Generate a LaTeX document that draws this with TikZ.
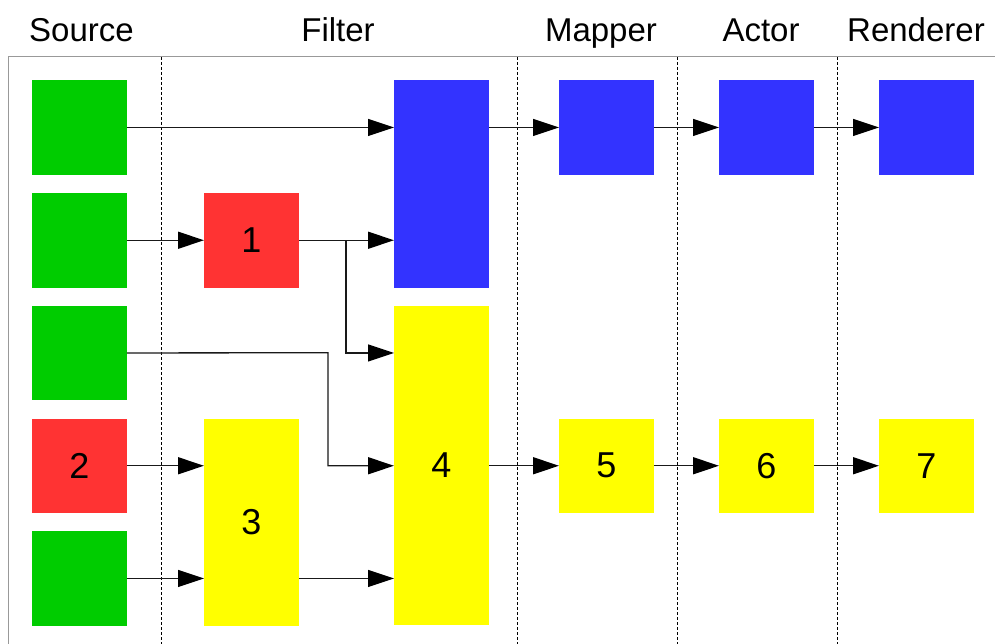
\documentclass[tikz,border=0pt]{standalone}
\usepackage{fontspec}
\setmainfont{Liberation Sans}
\usetikzlibrary{arrows.meta}
\definecolor{cgreen}{HTML}{00CC00}
\definecolor{cred}{HTML}{FF3333}
\definecolor{cblue}{HTML}{3333FF}
\definecolor{cyellow}{HTML}{FFFF00}
\definecolor{cframe}{HTML}{999999}
\begin{document}
\begin{tikzpicture}[x=1pt,y=-1pt,
  box/.style={rectangle,inner sep=0pt,minimum width=94.5pt,anchor=north west,font=\fontsize{36}{40}\selectfont},
  sq/.style={box,minimum height=94.5pt},
  hdr/.style={anchor=base,font=\fontsize{33}{40}\selectfont,inner sep=0pt},
  arr/.style={draw=black!90,line width=1.3pt,-{Triangle[length=26pt,width=17pt,fill=black,color=black]}},
  sepline/.style={draw=black,line width=0.8pt,dash pattern=on 3pt off 2pt},
  framel/.style={draw=cframe,line width=1pt}]
\useasboundingbox (0,0) rectangle (995,644);
% headers
\node[hdr] (hsrc) at (81.5,42) {Source};
\node[hdr] (hflt) at (338,42) {Filter};
\node[hdr] (hmap) at (601,42) {Mapper};
\node[hdr] (hact) at (761,42) {Actor};
\node[hdr] (hren) at (916,42) {Renderer};
% frame
\coordinate (f0) at (8,644);
\coordinate (f1) at (8,56.5);
\coordinate (f2) at (995,56.5);
\draw[framel] (f0) -- (f1) -- (f2);
% separators
\foreach \i/\x in {a/161.5,b/517,c/677,d/837}{
  \coordinate (s\i t) at (\x,57);
  \coordinate (s\i b) at (\x,644);
  \draw[sepline] (s\i t) -- (s\i b);
}
% source
\node[sq,fill=cgreen] (g1) at (32,80) {};
\node[sq,fill=cgreen] (g2) at (32,192.8) {};
\node[sq,fill=cgreen] (g3) at (32,305.5) {};
\node[sq,fill=cred] (r2) at (32,418.3) {2};
\node[sq,fill=cgreen] (g5) at (32,531) {};
% filter
\node[sq,fill=cred] (r1) at (204,192.8) {1};
\node[box,fill=cyellow,minimum height=207pt] (y3) at (204,418.3) {3};
\node[box,fill=cblue,minimum height=207.5pt] (bf) at (394,80) {};
\node[box,fill=cyellow,minimum height=319.5pt] (y4) at (394,305.5) {4};
% mapper, actor, renderer
\node[sq,fill=cblue] (bm) at (559,80) {};
\node[sq,fill=cblue] (ba) at (719,80) {};
\node[sq,fill=cblue] (br) at (879,80) {};
\node[sq,fill=cyellow] (y5) at (559,418.3) {5};
\node[sq,fill=cyellow] (y6) at (719,418.3) {6};
\node[sq,fill=cyellow] (y7) at (879,418.3) {7};
% connectors
\draw[arr] (g1.east) -- (bf.west |- g1.east);
\draw[arr] (g2.east) -- (r1.west);
\coordinate (j1) at (346,240.05);
\draw[arr] (r1.east) -- (bf.west |- r1.east);
\draw[arr] (j1) |- (y4.west |- g3.east);
\coordinate (j2) at (328,352.75);
\draw[arr] (g3.east) -- (j2) |- (y4.west |- r2.east);
\draw[arr] (r2.east) -- (y3.west |- r2.east);
\draw[arr] (g5.east) -- (y3.west |- g5.east);
\draw[arr] (y3.east |- g5.east) -- (y4.west |- g5.east);
\draw[arr] (bf.east |- bm.west) -- (bm.west);
\draw[arr] (bm.east) -- (ba.west);
\draw[arr] (ba.east) -- (br.west);
\draw[arr] (y4.east |- y5.west) -- (y5.west);
\draw[arr] (y5.east) -- (y6.west);
\draw[arr] (y6.east) -- (y7.west);
\end{tikzpicture}
\end{document}
